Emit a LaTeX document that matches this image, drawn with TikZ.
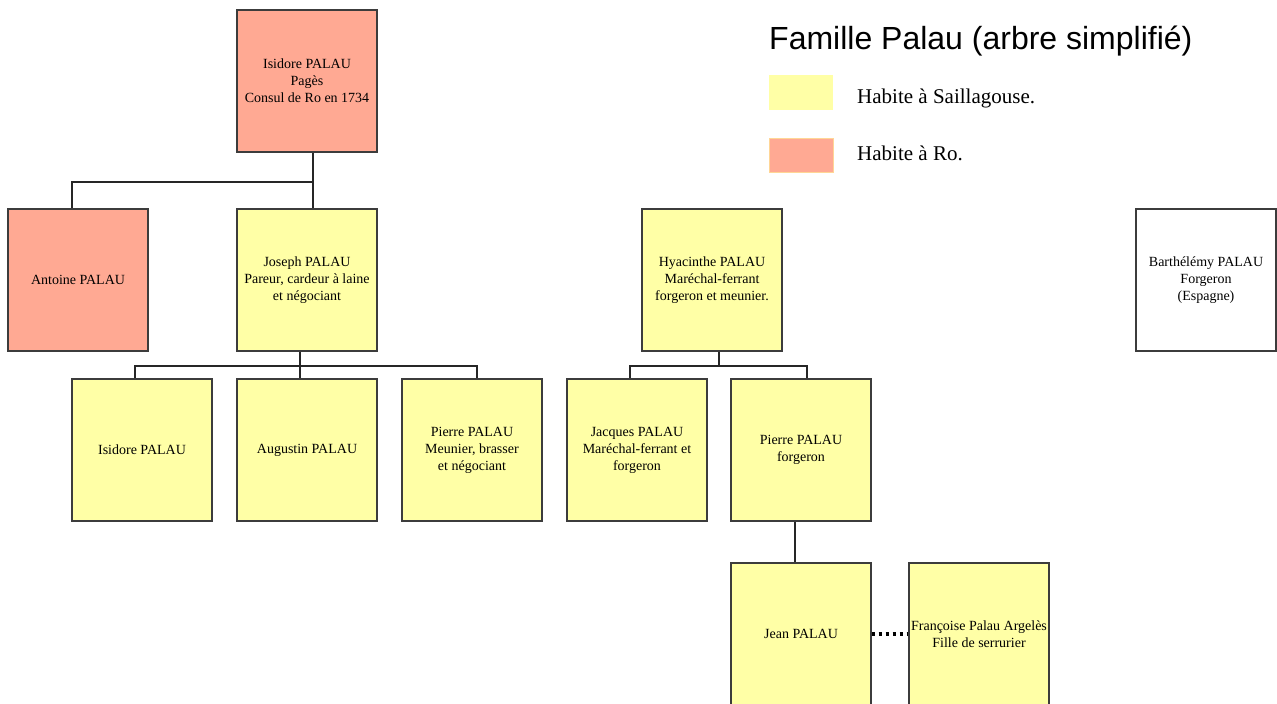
\documentclass[tikz,border=0pt]{standalone}
\usepackage{fontspec}
\setmainfont{Liberation Serif}
\newfontfamily\titlefont{Liberation Sans}
\usepackage{xcolor}
\usepackage{tikz}
\usetikzlibrary{positioning, calc}

\definecolor{ro}{RGB}{255,169,147}
\definecolor{sail}{RGB}{255,255,166}
\definecolor{roedge}{RGB}{255,214,150}
\definecolor{boxedge}{RGB}{60,60,60}

\begin{document}
\begin{tikzpicture}[x=1pt, y=-1pt]
	\tikzstyle{person}=[rectangle, draw=boxedge, line width=1.3pt, minimum width=140pt, minimum height=142pt, inner sep=0pt, align=center, font=\fontsize{14}{17}\selectfont]
	\tikzstyle{persro}=[person, fill=ro]
	\tikzstyle{perssail}=[person, fill=sail]
	\tikzstyle{link}=[draw=black!85, line width=1.8pt]
	\tikzstyle{marriage}=[draw=black, line width=4pt, dash pattern=on 3.5pt off 3.5pt]
	\tikzstyle{legtext}=[anchor=base west, inner sep=0pt, font=\fontsize{21}{25}\selectfont]
	
	\useasboundingbox (0,0) rectangle (1277,704);
	
	\node (isi) at (307,81) [persro] {Isidore PALAU\\Pagès\\Consul de Ro en 1734};
	
	\node (ant) at (78,280) [persro] {Antoine PALAU};
	\node (jos) at (307,280) [perssail] {Joseph PALAU\\Pareur, cardeur à laine\\et négociant};
	\node (hya) at (712,280) [perssail] {Hyacinthe PALAU\\Maréchal-ferrant\\forgeron et meunier.};
	\node (bar) at (1206,280) [person, fill=white] {Barthélémy PALAU\\Forgeron\\(Espagne)};
	
	\node (isi2) at (142,450) [perssail] {Isidore PALAU};
	\node (aug) at (307,450) [perssail] {Augustin PALAU};
	\node (pie) at (472,450) [perssail] {Pierre PALAU\\Meunier, brasser\\et négociant};
	\node (jac) at (637,450) [perssail] {Jacques PALAU\\Maréchal-ferrant et\\forgeron};
	\node (pie2) at (801,450) [perssail] {Pierre PALAU\\forgeron};
	
	\node (jea) at (801,634) [perssail] {Jean PALAU};
	\node (fra) at (979,634) [perssail] {Françoise Palau Argelès\\Fille de serrurier};
	
	\draw[link] ([xshift=6pt]isi.south) -- ++(0,29) coordinate (ji);
	\draw[link] (ji) -| ([xshift=-6pt]ant.north);
	\draw[link] (ji) -- ([xshift=6pt]jos.north);
	
	\draw[link] ([xshift=-7pt]jos.south) -- ++(0,14) coordinate (jj);
	\draw[link] ([xshift=-7pt]isi2.north) |- (jj) -| ([xshift=5pt]pie.north);
	\draw[link] (jj) -- ([xshift=-7pt]aug.north);
	
	\draw[link] ([xshift=7pt]hya.south) -- ++(0,14) coordinate (jh);
	\draw[link] ([xshift=-7pt]jac.north) |- (jh) -| ([xshift=6pt]pie2.north);
	
	\draw[link] ([xshift=-6pt]pie2.south) -- ([xshift=-6pt]jea.north);
	\draw[marriage] (jea.east) -- (fra.west);
	
	\node (titre) at (769,49) [anchor=base west, inner sep=0pt, font=\titlefont\fontsize{32}{38}\selectfont] {Famille Palau (arbre simplifié)};
	\node (legs) at (801,92.5) [fill=sail, minimum width=64pt, minimum height=35pt, inner sep=0pt] {};
	\node (legr) at (801,155) [fill=ro, draw=roedge, line width=0.8pt, minimum width=64pt, minimum height=34pt, inner sep=0pt] {};
	\node (legst) at (857,103) [legtext] {Habite à Saillagouse.};
	\node (legrt) at (857,160) [legtext] {Habite à Ro.};
\end{tikzpicture}
\end{document}
